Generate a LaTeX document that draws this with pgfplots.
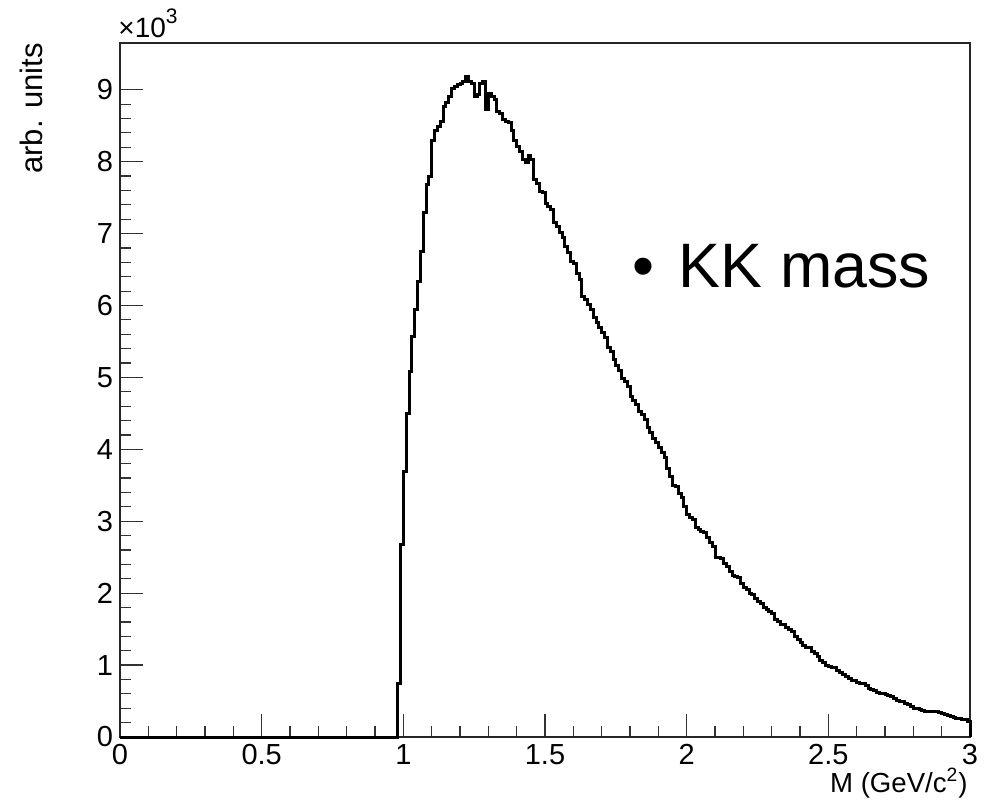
\documentclass[border=0pt]{standalone}
\usepackage{pgfplots}
\pgfplotsset{compat=1.18}
\usepackage{fontspec}
\setmainfont{Liberation Sans}

\pgfplotstableread{
x y
0.00 0
0.98 0.75
0.99 2.67
1.00 3.69
1.01 4.50
1.02 5.08
1.03 5.57
1.04 5.94
1.05 6.33
1.06 6.75
1.07 7.29
1.08 7.68
1.09 7.79
1.10 8.30
1.11 8.44
1.12 8.49
1.13 8.56
1.14 8.77
1.15 8.82
1.16 8.91
1.17 9.02
1.18 9.05
1.19 9.07
1.20 9.09
1.21 9.12
1.22 9.18
1.23 9.11
1.24 9.09
1.25 8.91
1.26 8.93
1.27 9.09
1.28 9.11
1.29 8.72
1.30 8.95
1.31 8.91
1.32 8.86
1.33 8.70
1.34 8.67
1.35 8.58
1.36 8.56
1.37 8.54
1.38 8.44
1.39 8.30
1.40 8.21
1.41 8.14
1.42 8.03
1.43 7.99
1.44 8.08
1.45 8.03
1.46 7.75
1.47 7.70
1.48 7.58
1.49 7.57
1.50 7.42
1.51 7.38
1.52 7.33
1.53 7.15
1.54 7.10
1.55 7.02
1.56 6.95
1.57 6.82
1.58 6.73
1.59 6.61
1.60 6.58
1.61 6.45
1.62 6.36
1.63 6.12
1.64 6.08
1.65 6.02
1.66 5.94
1.67 5.84
1.68 5.76
1.69 5.70
1.70 5.62
1.71 5.55
1.72 5.42
1.73 5.36
1.74 5.25
1.75 5.17
1.76 5.10
1.77 4.99
1.78 4.94
1.79 4.87
1.80 4.73
1.81 4.68
1.82 4.62
1.83 4.53
1.84 4.48
1.85 4.41
1.86 4.30
1.87 4.24
1.88 4.15
1.89 4.10
1.90 4.03
1.91 3.95
1.92 3.88
1.93 3.74
1.94 3.62
1.95 3.50
1.96 3.48
1.97 3.39
1.98 3.33
1.99 3.20
2.00 3.10
2.01 3.05
2.02 3.03
2.03 2.92
2.04 2.88
2.05 2.86
2.06 2.84
2.07 2.77
2.08 2.70
2.09 2.65
2.10 2.50
2.11 2.49
2.12 2.48
2.13 2.41
2.14 2.37
2.15 2.30
2.16 2.25
2.17 2.23
2.18 2.22
2.19 2.14
2.20 2.08
2.21 2.05
2.22 2.00
2.23 1.98
2.24 1.93
2.25 1.89
2.26 1.86
2.27 1.80
2.28 1.77
2.29 1.74
2.30 1.72
2.31 1.64
2.32 1.60
2.33 1.57
2.34 1.56
2.35 1.52
2.36 1.50
2.37 1.47
2.38 1.40
2.39 1.35
2.40 1.31
2.41 1.27
2.42 1.25
2.43 1.24
2.44 1.19
2.45 1.16
2.46 1.12
2.47 1.06
2.48 1.03
2.49 1.00
2.50 0.98
2.51 0.97
2.52 0.96
2.53 0.93
2.54 0.90
2.55 0.87
2.56 0.84
2.57 0.82
2.58 0.79
2.59 0.78
2.60 0.76
2.61 0.75
2.62 0.74
2.63 0.71
2.64 0.68
2.65 0.66
2.66 0.64
2.67 0.62
2.68 0.61
2.69 0.60
2.70 0.59
2.71 0.58
2.72 0.57
2.73 0.54
2.74 0.51
2.75 0.50
2.76 0.49
2.77 0.47
2.78 0.45
2.79 0.42
2.80 0.40
2.81 0.39
2.82 0.38
2.83 0.37
2.84 0.36
2.85 0.36
2.86 0.35
2.87 0.36
2.88 0.35
2.89 0.34
2.90 0.33
2.91 0.31
2.92 0.30
2.93 0.28
2.94 0.27
2.95 0.26
2.96 0.26
2.97 0.25
2.98 0.24
2.99 0.21
3.00 0.21
3.00 0
}\histdata

\begin{document}
\begin{tikzpicture}
\begin{axis}[
  at={(60pt,36.5pt)}, anchor=south west,
  scale only axis, width=425pt, height=347pt,
  xmin=0, xmax=3, ymin=0, ymax=9.65,
  xtick={0,0.5,1,1.5,2,2.5,3}, ytick={0,1,2,3,4,5,6,7,8,9},
  minor x tick num=4, minor y tick num=4,
  tick align=inside, xtick pos=bottom, ytick pos=left,
  major tick length=11.5pt, minor tick length=5.5pt,
  tick style={black!80, line width=0.6pt},
  axis line style={line width=0.8pt, black!85},
  ticklabel style={font=\fontsize{14.5}{16}\selectfont},
  /pgf/number format/assume math mode=true,
  clip=false,
]
\addplot[const plot mark left, black, line width=1.5pt, line join=miter] table[x=x, y=y] {\histdata};
\end{axis}
\node[rotate=90, anchor=base east, inner sep=0, font=\fontsize{15.5}{17}\selectfont] at (21pt,383.5pt) {arb. units};
\node[anchor=base west, inner sep=0, font=\fontsize{14}{16}\selectfont] at (59pt,386pt) {×10\raisebox{0.5em}{\fontsize{10.5}{12}\selectfont 3}};
\node[anchor=base east, inner sep=0, font=\fontsize{13.8}{15}\selectfont] at (484pt,9pt) {M (GeV/c\textsuperscript{2})};
\node[anchor=base west, inner sep=0, font=\fontsize{31.4}{36}\selectfont] at (316pt,261.5pt) {•\kern3.5pt\ KK mass};
\pgfresetboundingbox
\path[use as bounding box] (0,0) rectangle (492.5pt,405pt);
\end{tikzpicture}
\end{document}
